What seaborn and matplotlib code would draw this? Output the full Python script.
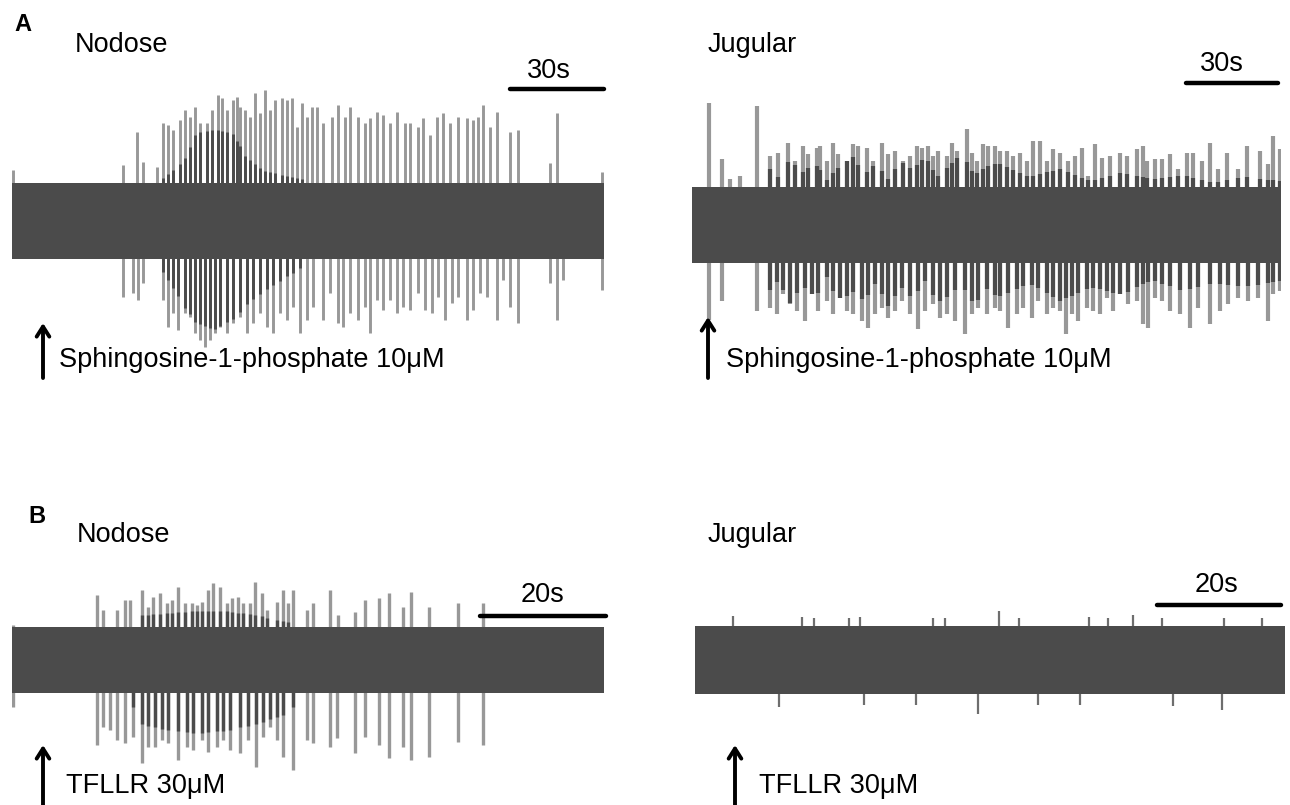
'''
Extracellular recordings: nodose vs jugular responses to S1P and TFLLR
'''
import numpy as np
import pandas as pd
import matplotlib
matplotlib.use('Agg')
import matplotlib.pyplot as plt
import seaborn as sns

W, H = 1290, 805

# ---- data (time in s, amplitude in a.u.) ----
# A, nodose, sphingosine-1-phosphate
aNodUpT = [0.3, 36.2, 40.8, 42.7, 47.3, 49.2, 50.9, 52.5, 54.8, 56.4, 58.0, 59.7, 61.3, 63.6, 65.2,
           67.2, 68.5, 70.1, 72.1, 73.4, 74.3, 76.0, 77.6, 79.2, 80.9, 82.5, 84.1, 85.8, 88.0, 89.7,
           91.3, 92.9, 94.6, 96.2, 97.8, 99.4, 101.4, 104.3, 106.3, 108.6, 110.2, 112.8, 115.1,
           116.7, 119.0, 121.0, 123.3, 125.5, 128.1, 129.8, 132.4, 134.0, 136.3, 138.6, 140.5,
           142.8, 145.4, 148.4, 150.3, 151.9, 153.6, 155.9, 158.1, 162.4, 165.0, 175.4, 177.7, 192.4]
aNodUpA = [51, 56, 89, 59, 54, 98, 96, 91, 101, 111, 104, 114, 98, 98, 111,
           126, 123, 111, 121, 124, 114, 111, 104, 128, 108, 131, 111, 121, 123, 121,
           123, 94, 118, 104, 114, 114, 98, 104, 116, 104, 114, 104, 98,
           103, 109, 106, 98, 109, 98, 98, 94, 103, 86, 104, 108,
           98, 104, 103, 101, 104, 116, 94, 109, 89, 91, 58, 108, 49]
aNodDnT = [36.2, 39.5, 41.1, 42.7, 49.2, 50.9, 52.5, 54.1, 56.4, 58.0, 59.7, 61.3, 62.9, 64.6, 66.2,
           67.8, 70.1, 72.1, 74.3, 76.6, 78.6, 80.9, 83.1, 85.1, 87.4, 89.7, 91.6, 93.9, 96.2, 98.1,
           101.4, 103.7, 106.3, 107.9, 110.2, 112.8, 115.1, 116.7, 119.0, 121.0, 123.3, 125.5,
           127.5, 129.8, 132.4, 134.7, 136.9, 138.9, 141.2, 143.5, 145.4, 148.4, 150.3, 152.6,
           154.9, 158.1, 160.1, 162.4, 165.0, 175.4, 177.7, 179.7, 192.4]
aNodDnA = [76, 72, 79, 62, 79, 106, 92, 109, 92, 96, 112, 119, 126, 119, 112,
           106, 112, 102, 96, 112, 102, 92, 106, 112, 92, 99, 86, 112, 99, 86,
           99, 72, 102, 106, 92, 99, 86, 112, 79, 89, 79, 92,
           86, 89, 72, 89, 92, 76, 99, 82, 76, 99, 89, 72,
           76, 99, 59, 86, 102, 62, 99, 59, 69]
# level up to which the spikes of the burst look dark (dense firing)
aNodCoreT = [48, 56, 60, 66, 72, 76, 82, 95, 100]
aNodCoreUp = [40, 60, 88, 92, 88, 65, 50, 42, 0]
aNodCoreDn = [45, 85, 102, 108, 98, 85, 70, 45, 0]

# A, jugular, sphingosine-1-phosphate
aJugUpT = [5.5, 9.8, 12.4, 15.7, 21.2, 25.4, 28.0, 31.3, 33.6, 36.2, 37.8, 40.8, 41.7, 44.0, 46.0,
           47.6, 50.5, 52.5, 54.1, 57.1, 59.0, 61.9, 63.9, 66.2, 68.8, 71.1, 73.4, 75.0, 76.9, 78.6,
           80.2, 83.1, 84.8, 86.4, 89.7, 91.3, 92.9, 94.9, 96.5, 98.8, 100.4, 102.7, 104.7, 106.9,
           109.2, 111.2, 113.5, 115.7, 117.7, 120.0, 122.6, 124.9, 127.2, 129.1, 131.4, 133.7,
           136.3, 139.6, 141.8, 145.1, 147.0, 148.4, 151.0, 153.2, 155.9, 158.5, 161.4, 163.4,
           166.3, 168.9, 171.5, 174.4, 178.0, 181.0, 185.2, 187.8, 189.4, 191.7]
aJugUpA = [122, 66, 46, 49, 119, 69, 72, 82, 64, 79, 71, 77, 79, 64, 82,
           71, 64, 81, 79, 77, 64, 82, 71, 74, 64, 69, 79, 77, 79, 69,
           74, 69, 82, 74, 96, 72, 64, 81, 79, 79, 74, 74, 69, 72,
           64, 84, 84, 64, 76, 72, 64, 69, 77, 49, 81, 67,
           69, 72, 69, 76, 79, 64, 66, 66, 71, 56, 72, 72,
           64, 82, 56, 72, 56, 79, 74, 61, 89, 76]
aJugDnT = [5.5, 9.8, 21.2, 25.4, 27.7, 29.7, 32.0, 34.2, 36.8, 39.1, 41.1, 44.0, 46.0, 48.3, 50.5,
           52.5, 55.4, 57.4, 59.7, 61.9, 63.9, 66.2, 68.5, 71.1, 73.7, 76.0, 78.6, 80.9, 83.1, 85.8,
           89.0, 91.3, 93.3, 96.2, 98.8, 100.4, 103.0, 106.0, 107.9, 110.9, 112.8, 115.7, 117.7,
           120.0, 121.9, 123.9, 125.9, 128.8, 130.7, 133.0, 135.3, 137.3, 139.6, 142.2, 145.1,
           147.0, 148.7, 151.0, 153.2, 155.9, 159.1, 162.4, 165.0, 168.9, 172.2, 174.8, 178.0,
           181.3, 184.5, 187.8, 189.4, 191.7]
aJugDnA = [95, 76, 86, 83, 89, 69, 79, 86, 96, 69, 86, 76, 89, 73, 86,
           89, 96, 103, 89, 83, 93, 86, 76, 89, 104, 86, 79, 93, 89, 96,
           109, 89, 83, 89, 83, 86, 103, 89, 83, 93, 76, 89, 83,
           86, 109, 89, 96, 83, 86, 89, 73, 86, 69, 79, 76,
           99, 103, 73, 76, 86, 89, 103, 83, 99, 86, 79, 73,
           76, 73, 96, 69, 66]
aJugCoreT = [22, 24, 28, 32, 36, 40, 44, 48, 52, 56, 60, 64, 68, 72, 76, 80, 84, 88, 92, 96,
             100, 110, 120, 130, 140, 150, 160, 170, 180, 192]
aJugCoreUp = [0, 60, 48, 66, 52, 63, 45, 58, 70, 50, 62, 46, 64, 55, 68, 48, 60, 72, 50, 58,
              62, 48, 56, 44, 52, 46, 50, 42, 48, 44]
aJugCoreDn = [0, 70, 56, 78, 60, 74, 52, 80, 66, 76, 58, 82, 62, 74, 56, 78, 70, 60, 80, 64,
              72, 58, 76, 62, 70, 55, 66, 58, 62, 56]

# B, nodose, TFLLR
bNodUpT = [0.2, 13.7, 14.7, 16.9, 18.2, 19.0, 21.0, 21.9, 22.7, 23.9, 25.0, 25.8, 26.8, 27.9, 29.0,
           29.8, 30.6, 31.6, 32.4, 33.5, 34.7, 35.5, 36.5, 37.3, 38.4, 39.2, 40.3, 41.1, 42.7, 43.7,
           44.5, 45.3, 47.6, 48.5, 51.3, 52.6, 55.3, 56.9, 59.2, 60.8, 63.1, 64.4, 67.3, 71.9, 76.0]
bNodUpA = [35, 65, 50, 50, 60, 60, 70, 53, 63, 67, 57, 60, 73, 57, 57,
           55, 58, 70, 77, 73, 57, 62, 63, 57, 57, 78, 67, 50, 58, 70,
           57, 70, 50, 57, 70, 45, 48, 60, 62, 67, 53, 68, 53, 57, 57]
bNodDnT = [0.2, 13.7, 14.7, 15.8, 16.9, 18.2, 19.5, 21.0, 21.9, 23.1, 24.2, 25.2, 26.8, 28.2, 29.2,
           30.6, 31.6, 33.1, 34.0, 35.2, 36.8, 38.1, 39.4, 40.5, 41.6, 42.7, 43.7, 45.3, 47.6, 48.5,
           51.3, 52.4, 55.3, 56.9, 59.2, 60.8, 63.1, 64.4, 67.3, 71.9, 76.0]
bNodDnA = [47, 85, 67, 70, 80, 83, 77, 103, 87, 87, 80, 83, 100, 87, 90,
           80, 92, 87, 80, 90, 93, 80, 107, 77, 67, 80, 97, 110, 80, 83,
           87, 78, 93, 77, 85, 98, 87, 100, 97, 82, 85]
bNodCoreT = [18, 20, 25, 30, 35, 40, 45, 48]
bNodCoreUp = [0, 44, 47, 49, 49, 44, 37, 0]
bNodCoreDn = [0, 63, 70, 73, 70, 63, 52, 0]

# B, jugular, TFLLR (only small noise-size deflections)
bJugUpT = [6.1, 17.3, 19.2, 24.8, 26.6, 38.4, 40.3, 49.1, 52.2, 63.5, 66.6, 70.6, 75.4, 85.3, 91.5]
bJugUpA = [44, 43, 42, 42, 43, 42, 42, 49, 42, 43, 42, 45, 42, 42, 42]
bJugDnT = [13.6, 27.2, 35.7, 45.6, 55.4, 62.2, 77.1, 85.0]
bJugDnA = [47, 45, 45, 54, 45, 45, 46, 50]

# baseline noise half-width per trace
noiseA_nod = 38
noiseA_jug = 38
noiseB_nod = 33
noiseB_jug = 34

DARK = '#4b4b4b'
LIGHT = '#989898'

sns.set_theme(style='white')
plt.rcParams['font.family'] = ['Liberation Sans', 'DejaVu Sans']
plt.rcParams['text.color'] = 'black'

fig = plt.figure(figsize=(W / 100, H / 100), dpi=100)


def traceAxes(x0, x1, yc, dur, span=160):
    ax = fig.add_axes([x0 / W, 1 - (yc + span) / H, (x1 - x0) / W, 2 * span / H])
    ax.set_xlim(0, dur)
    ax.set_ylim(-span, span)
    ax.axis('off')
    return ax


def drawTrace(ax, dur, upT, upA, dnT, dnA, noise, core=None, spikeColor=LIGHT, lw=2.1):
    upT, upA, dnT, dnA = map(np.asarray, (upT, upA, dnT, dnA))
    ax.vlines(upT, 0, upA, color=spikeColor, lw=lw, zorder=2)
    ax.vlines(dnT, 0, -dnA, color=spikeColor, lw=lw, zorder=2)
    if core is not None:
        t, up, dn = core
        darkUp = np.minimum(upA, np.interp(upT, t, up, left=0, right=0))
        darkDn = np.minimum(dnA, np.interp(dnT, t, dn, left=0, right=0))
        ax.vlines(upT, 0, darkUp, color=DARK, lw=lw, zorder=3)
        ax.vlines(dnT, 0, -darkDn, color=DARK, lw=lw, zorder=3)
    ax.fill_between([0, dur], -noise, noise, color=DARK, lw=0, zorder=5)


def scaleBar(ax, t0, t1, y):
    bar = pd.DataFrame({'t': [t0, t1], 'y': [y, y]})
    sns.lineplot(data=bar, x='t', y='y', ax=ax, color='black', lw=3.2)
    ax.lines[-1].set_clip_on(False)
    ax.axis('off')


# A nodose
dur = 193.0
ax = traceAxes(12, 604, 221, dur)
drawTrace(ax, dur, aNodUpT, aNodUpA, aNodDnT, aNodDnA, noiseA_nod,
          core=(aNodCoreT, aNodCoreUp, aNodCoreDn))
scaleBar(ax, dur - 30.6, dur, 132)

# A jugular
dur = 192.0
ax = traceAxes(692, 1281, 225, dur)
drawTrace(ax, dur, aJugUpT, aJugUpA, aJugDnT, aJugDnA, noiseA_jug,
          core=(aJugCoreT, aJugCoreUp, aJugCoreDn), lw=3.0)
scaleBar(ax, dur - 31, dur - 1, 142)

# B nodose
dur = 95.5
ax = traceAxes(12, 604, 660, dur)
drawTrace(ax, dur, bNodUpT, bNodUpA, bNodDnT, bNodDnA, noiseB_nod,
          core=(bNodCoreT, bNodCoreUp, bNodCoreDn), lw=2.4)
scaleBar(ax, dur - 20, dur + 0.3, 44)

# B jugular
dur = 95.2
ax = traceAxes(695, 1285, 660, dur)
drawTrace(ax, dur, bJugUpT, bJugUpA, bJugDnT, bJugDnA, noiseB_jug, spikeColor='#6e6e6e', lw=1.6)
scaleBar(ax, dur - 20.6, dur - 0.6, 55)

# labels, arrows
ov = fig.add_axes([0, 0, 1, 1])
ov.set_xlim(0, W)
ov.set_ylim(H, 0)
ov.axis('off')
ov.patch.set_alpha(0)

fs = 19.5
ov.text(14, 31, 'A', fontsize=17, fontweight='bold', va='baseline')
ov.text(28, 523, 'B', fontsize=17, fontweight='bold', va='baseline')
for x, y, s in [(75, 52, 'Nodose'), (708, 52, 'Jugular'), (77, 542, 'Nodose'), (708, 542, 'Jugular')]:
    ov.text(x, y, s, fontsize=fs, va='baseline')
for x, y, s in [(549, 78, '30s'), (1222, 71, '30s'), (543, 602, '20s'), (1217, 592, '20s')]:
    ov.text(x, y, s, fontsize=fs, va='baseline', ha='center')

arrow = dict(arrowstyle='->,head_length=0.6,head_width=0.38', lw=2.8, color='black', shrinkA=0, shrinkB=0)
for x, yTip, yTail in [(43, 323, 378), (708, 317, 378), (43, 745, 810), (735, 745, 810)]:
    ov.annotate('', xy=(x, yTip), xytext=(x, yTail), arrowprops=arrow, annotation_clip=False)

ov.text(59, 367, 'Sphingosine-1-phosphate 10μM', fontsize=fs, va='baseline')
ov.text(726, 367, 'Sphingosine-1-phosphate 10μM', fontsize=fs, va='baseline')
ov.text(66, 793, 'TFLLR 30μM', fontsize=fs, va='baseline')
ov.text(759, 793, 'TFLLR 30μM', fontsize=fs, va='baseline')

fig.savefig('out.png', dpi=100)
